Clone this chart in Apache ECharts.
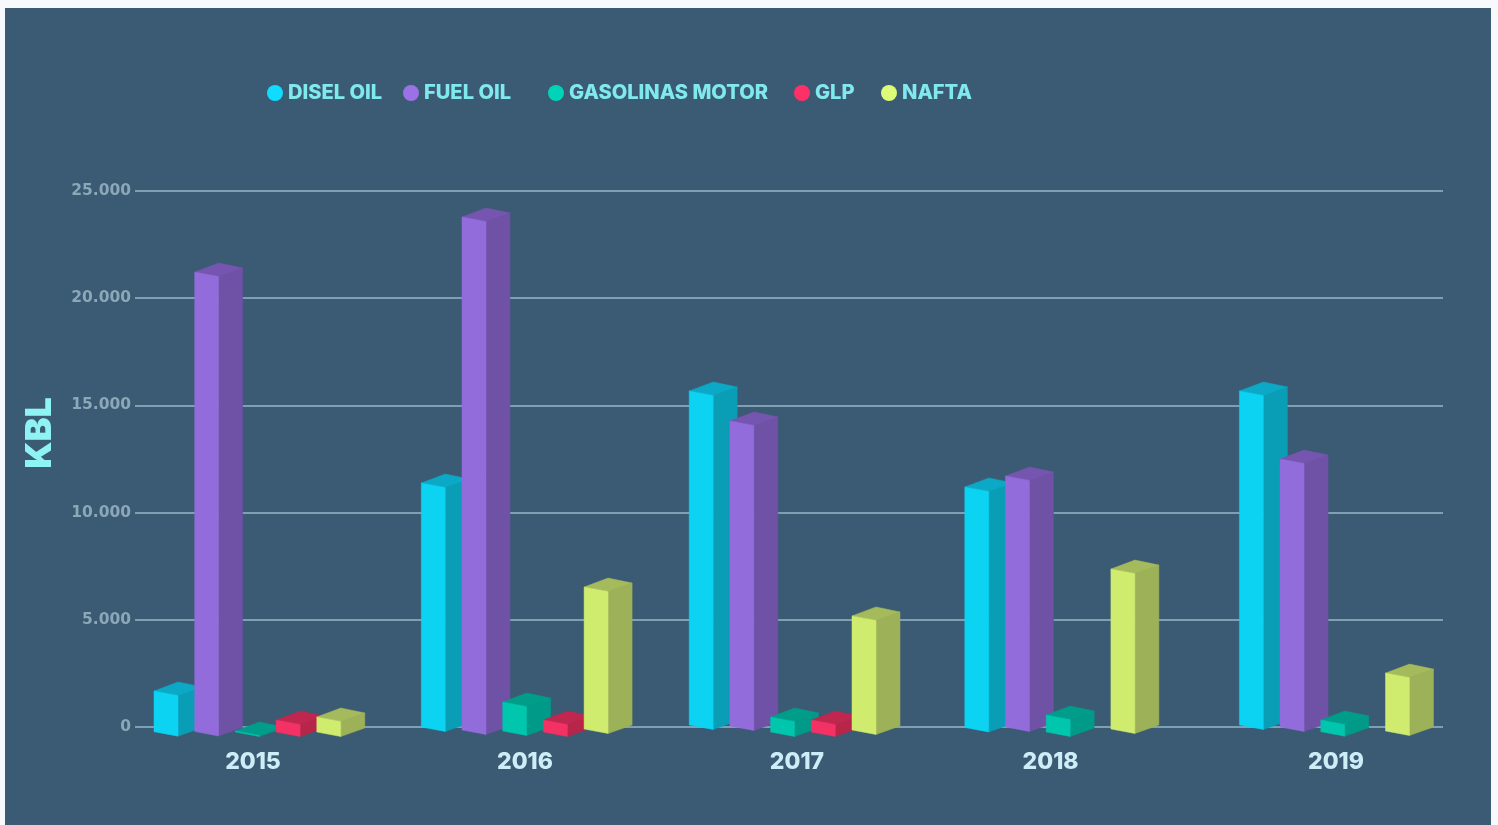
<!DOCTYPE html>
<html>
<head>
<meta charset="utf-8">
<script src="https://cdn.jsdelivr.net/npm/echarts@6/dist/echarts.min.js"></script>
<style>
html,body{margin:0;padding:0;width:1498px;height:825px;background:#f8f9fc;overflow:hidden}
#panel{position:absolute;left:5px;top:8px;width:1486px;height:817px;background:#3b5a73}
#chart{position:absolute;left:0;top:0;width:1498px;height:825px}
</style>
</head>
<body>
<div id="panel"></div>
<div id="chart"></div>
<script>
// ---- data ----
const years = ['2015', '2016', '2017', '2018', '2019'];
const productNames = ['DISEL OIL', 'FUEL OIL', 'GASOLINAS MOTOR', 'GLP', 'NAFTA'];
const diselOil = [1900, 11380, 15580, 11220, 15580];
const fuelOil = [21430, 23930, 14230, 11710, 12500];
const gasolinasMotor = [50, 1350, 700, 790, 550];
const glp = [560, 560, 560, null, null];
const nafta = [700, 6620, 5320, 7460, 2700];
const yTicksMax = 25000;

// ---- drawing style ----
const seriesValues = [diselOil, fuelOil, gasolinasMotor, glp, nafta];
const legendDot = ['#0fdcff', '#9b72e6', '#00d4b8', '#ff3068', '#dcfb76'];
const faceFront = ['#0dd3f2', '#936cdc', '#00c6ae', '#f43165', '#cfec6f'];
const faceSide = ['#0a9db6', '#6f51a6', '#009a88', '#b72649', '#9db158'];
const faceTop = ['#0ba9c5', '#7655b0', '#009d8a', '#c0274f', '#a5bb5b'];
const legendLeft = [262, 398, 543, 789, 876];
const groupNudge = [19, 24.7, 31, 45, 58];
const labelNudge = [-12.8, -2.4, 8, 0, 23.8];
const footDrop = [
  [4.7, 0, -2, 0.5, -2],
  [4.5, 3, -1, 0, 0],
  [5, 4, 5, 5, 4.7],
  [5, 5, 5, 0, 0],
  [5, 2, 3, 2, 4]
];
const BAR_STEP = 40.7, EMPTY_STEP = 24, FACE_W = 24;

function slotOffset(seriesIdx, yearIdx) {
  let off = 0;
  for (let s = 0; s < seriesIdx; s++) {
    off += seriesValues[s][yearIdx] == null ? EMPTY_STEP : BAR_STEP;
  }
  return off;
}

function renderBox(seriesIdx) {
  return function (params, api) {
    const yearIdx = api.value(0);
    const v = api.value(1);
    if (v == null || isNaN(v)) return null;
    const band = api.size([1, 0])[0];
    const zero = api.coord([yearIdx, 0]);
    const h = zero[1] - api.coord([yearIdx, v])[1];
    const x = zero[0] - band / 2 + groupNudge[yearIdx] + slotOffset(seriesIdx, yearIdx);
    const fb = zero[1] + footDrop[seriesIdx][yearIdx];
    const ft = fb - h;
    const m = x + FACE_W, r = x + 2 * FACE_W;
    const poly = (pts, fill) => ({
      type: 'polygon',
      shape: { points: pts },
      style: { fill: fill, stroke: fill, lineWidth: 0.5 }
    });
    return {
      type: 'group',
      children: [
        poly([[m, ft + 4.5], [r, ft - 4], [r, fb - 4], [m, fb + 4.5]], faceSide[seriesIdx]),
        poly([[x, ft], [m, ft - 9], [r, ft - 4], [m, ft + 4.5]], faceTop[seriesIdx]),
        poly([[x, ft], [m, ft + 4.5], [m, fb + 4.5], [x, fb]], faceFront[seriesIdx])
      ]
    };
  };
}

const chart = echarts.init(document.getElementById('chart'), null, { renderer: 'canvas' });
chart.setOption({
  animation: false,
  backgroundColor: 'transparent',
  textStyle: { fontFamily: 'Inter' },
  legend: productNames.map((name, i) => ({
    left: legendLeft[i],
    top: 78,
    icon: 'circle',
    itemWidth: 16,
    itemHeight: 16,
    selectedMode: false,
    data: [{ name: name, itemStyle: { color: legendDot[i] } }],
    textStyle: {
      color: '#80e9ee',
      fontFamily: 'Inter',
      fontWeight: 800,
      fontSize: 20.1,
      padding: [0, 0, 0, 0]
    }
  })),
  grid: { left: 135, right: 55, top: 191, bottom: 98, outerBoundsMode: 'none' },
  xAxis: {
    type: 'category',
    data: years.map((y, i) => ({
      value: y,
      textStyle: {
        padding: labelNudge[i] < 0 ? [0, -2 * labelNudge[i], 0, 0] : [0, 0, 0, 2 * labelNudge[i]]
      }
    })),
    axisLine: { show: false },
    axisTick: { show: false },
    axisLabel: {
      color: '#cdeef7',
      fontFamily: 'Inter',
      fontWeight: 800,
      fontSize: 23,
      margin: 24,
      interval: 0
    }
  },
  yAxis: {
    type: 'value',
    min: 0,
    max: yTicksMax,
    interval: 5000,
    name: 'KBL',
    nameLocation: 'middle',
    nameRotate: 90,
    nameGap: 77,
    nameTextStyle: {
      color: '#8ff3f3',
      fontFamily: 'Inter',
      fontWeight: 900,
      fontSize: 36,
      padding: [0, 0, 0, 52]
    },
    axisLine: { show: false },
    axisTick: { show: false },
    axisLabel: {
      color: '#8aa8b8',
      fontFamily: 'DejaVu Sans',
      fontWeight: 700,
      fontSize: 15.5,
      margin: 4,
      formatter: v => String(v).replace(/\B(?=(\d{3})+$)/g, '.')
    },
    splitLine: { lineStyle: { color: '#7fa0b3', width: 2 } }
  },
  series: productNames.map((name, s) => ({
    name: name,
    type: 'custom',
    clip: false,
    color: legendDot[s],
    renderItem: renderBox(s),
    encode: { x: 0, y: 1 },
    data: years.map((y, i) => [y, seriesValues[s][i]])
  }))
});
</script>
</body>
</html>
